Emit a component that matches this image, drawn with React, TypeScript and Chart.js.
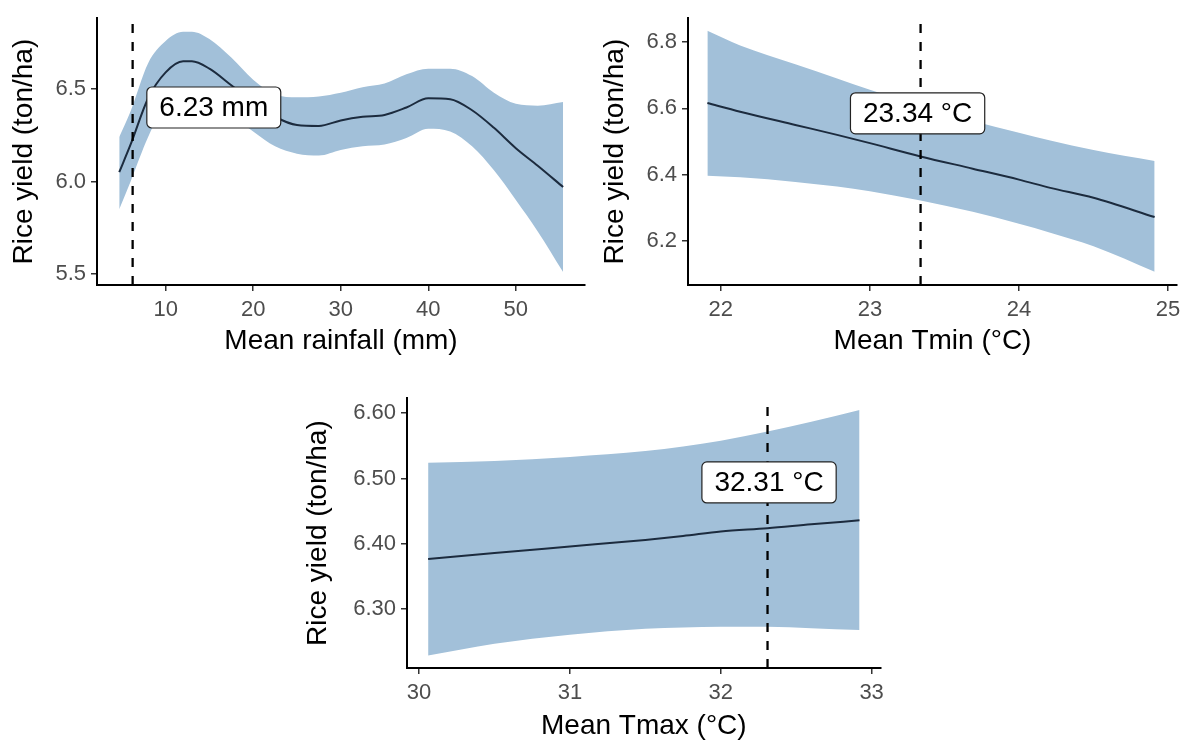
import React, { useEffect, useRef } from "react";
import { Chart, registerables } from "chart.js";

Chart.register(...registerables);

// ---------- Panel 1: Mean rainfall ----------
const RAIN_X = [4.7, 6, 8, 10, 12, 13, 15, 17.5, 20, 22.5, 25, 27.5, 30, 32.5, 35, 37.5, 40, 42.5, 45, 47.5, 50, 52.5, 55.4];
const RAIN_FIT = [6.05, 6.2, 6.45, 6.59, 6.65, 6.65, 6.61, 6.52, 6.43, 6.35, 6.305, 6.3, 6.33, 6.35, 6.36, 6.4, 6.45, 6.445, 6.385, 6.29, 6.18, 6.085, 5.97];
const RAIN_UPPER = [6.24, 6.38, 6.64, 6.76, 6.81, 6.81, 6.77, 6.67, 6.55, 6.47, 6.455, 6.46, 6.48, 6.51, 6.53, 6.58, 6.61, 6.61, 6.57, 6.48, 6.42, 6.41, 6.43];
const RAIN_LOWER = [5.85, 6.0, 6.24, 6.42, 6.49, 6.49, 6.45, 6.36, 6.27, 6.19, 6.15, 6.14, 6.17, 6.19, 6.2, 6.235, 6.285, 6.27, 6.19, 6.06, 5.9, 5.73, 5.51];
const RAIN_XTICKS = [10, 20, 30, 40, 50];
const RAIN_YTICKS = [5.5, 6.0, 6.5];
const RAIN_VLINE = 6.23;
const RAIN_LABEL = "6.23 mm";
const RAIN_LABEL_POS = [15.5, 6.4];

// ---------- Panel 2: Mean Tmin ----------
const TMIN_X = [21.91, 22.13, 22.5, 22.78, 23, 23.34, 23.69, 24, 24.21, 24.5, 24.91];
const TMIN_FIT = [6.616, 6.59, 6.55, 6.52, 6.495, 6.455, 6.418, 6.385, 6.36, 6.33, 6.272];
const TMIN_UPPER = [6.834, 6.79, 6.733, 6.69, 6.656, 6.607, 6.562, 6.526, 6.503, 6.474, 6.441];
const TMIN_LOWER = [6.397, 6.392, 6.378, 6.364, 6.35, 6.322, 6.288, 6.252, 6.225, 6.184, 6.107];
const TMIN_XTICKS = [22, 23, 24, 25];
const TMIN_YTICKS = [6.2, 6.4, 6.6, 6.8];
const TMIN_VLINE = 23.34;
const TMIN_LABEL = "23.34 °C";
const TMIN_LABEL_POS = [23.32, 6.585];

// ---------- Panel 3: Mean Tmax ----------
const TMAX_X = [30.06, 30.5, 31, 31.5, 31.75, 32, 32.31, 32.6, 32.92];
const TMAX_FIT = [6.377, 6.386, 6.396, 6.406, 6.412, 6.419, 6.424, 6.43, 6.436];
const TMAX_UPPER = [6.524, 6.527, 6.533, 6.542, 6.549, 6.558, 6.572, 6.587, 6.605];
const TMAX_LOWER = [6.229, 6.247, 6.261, 6.27, 6.272, 6.273, 6.273, 6.271, 6.268];
const TMAX_XTICKS = [30, 31, 32, 33];
const TMAX_YTICKS = [6.3, 6.4, 6.5, 6.6];
const TMAX_VLINE = 32.31;
const TMAX_LABEL = "32.31 °C";
const TMAX_LABEL_POS = [32.32, 6.494];

const Y_TITLE = "Rice yield (ton/ha)";

const FONT = "'Liberation Sans', Arial, sans-serif";
const BAND = "rgba(162,192,217,1)";
const FIT_COLOR = "#1c2b3e";

type Panel = {
  x: number[]; fit: number[]; upper: number[]; lower: number[];
  xTicks: number[]; yTicks: number[]; yDecimals: number;
  xMin: number; xMax: number; yMin: number; yMax: number;
  vline: number; label: string; labelPos: number[]; xTitle: string;
  // geometry
  left: number; top: number; width: number; height: number;
  yAxisW: number; xAxisH: number; padTop: number; padRight: number;
  yTitlePad: number; xTitlePad: number;
};

const PANELS: Panel[] = [
  {
    x: RAIN_X, fit: RAIN_FIT, upper: RAIN_UPPER, lower: RAIN_LOWER,
    xTicks: RAIN_XTICKS, yTicks: RAIN_YTICKS, yDecimals: 1,
    xMin: 2.16, xMax: 57.9, yMin: 5.44, yMax: 6.883,
    vline: RAIN_VLINE, label: RAIN_LABEL, labelPos: RAIN_LABEL_POS, xTitle: "Mean rainfall (mm)",
    left: 0, top: 0, width: 590, height: 370, yAxisW: 97, xAxisH: 85, padTop: 7, padRight: 5,
    yTitlePad: 7, xTitlePad: 12,
  },
  {
    x: TMIN_X, fit: TMIN_FIT, upper: TMIN_UPPER, lower: TMIN_LOWER,
    xTicks: TMIN_XTICKS, yTicks: TMIN_YTICKS, yDecimals: 1,
    xMin: 21.78, xMax: 25.06, yMin: 6.067, yMax: 6.872,
    vline: TMIN_VLINE, label: TMIN_LABEL, labelPos: TMIN_LABEL_POS, xTitle: "Mean Tmin (°C)",
    left: 590, top: 0, width: 602, height: 370, yAxisW: 98, xAxisH: 85, padTop: 7, padRight: 15,
    yTitlePad: 8, xTitlePad: 12,
  },
  {
    x: TMAX_X, fit: TMAX_FIT, upper: TMAX_UPPER, lower: TMAX_LOWER,
    xTicks: TMAX_XTICKS, yTicks: TMAX_YTICKS, yDecimals: 2,
    xMin: 29.92, xMax: 33.06, yMin: 6.21, yMax: 6.623,
    vline: TMAX_VLINE, label: TMAX_LABEL, labelPos: TMAX_LABEL_POS, xTitle: "Mean Tmax (°C)",
    left: 290, top: 380, width: 600, height: 363, yAxisW: 117, xAxisH: 75, padTop: 12, padRight: 8,
    yTitlePad: 11, xTitlePad: 0,
  },
];

const labelPlugin = {
  id: "labelBox",
  afterDatasetsDraw(chart: any, _args: any, opts: any) {
    const { ctx, scales } = chart;
    const px = scales.x.getPixelForValue(opts.pos[0]);
    const py = scales.y.getPixelForValue(opts.pos[1]);
    ctx.save();
    ctx.font = `28px ${FONT}`;
    const tw = ctx.measureText(opts.text).width;
    const w = tw + 25;
    const h = 41;
    const x0 = px - w / 2;
    const y0 = py - h / 2;
    ctx.beginPath();
    ctx.roundRect(x0, y0, w, h, 5);
    ctx.fillStyle = "#ffffff";
    ctx.fill();
    ctx.lineWidth = 1.2;
    ctx.strokeStyle = "#222";
    ctx.stroke();
    ctx.fillStyle = "#000";
    ctx.textAlign = "center";
    ctx.textBaseline = "middle";
    ctx.fillText(opts.text, px, py + 1);
    ctx.restore();
  },
};

function PanelChart({ p }: { p: Panel }) {
  const ref = useRef<HTMLCanvasElement | null>(null);
  useEffect(() => {
    if (!ref.current) return;
    const pts = (ys: number[]) => p.x.map((xv, i) => ({ x: xv, y: ys[i] }));
    const chart = new Chart(ref.current, {
      type: "line",
      data: {
        datasets: [
          {
            data: [{ x: p.vline, y: p.yMin }, { x: p.vline, y: p.yMax }],
            borderColor: "#000", borderWidth: 2.3, borderDash: [9, 9], pointRadius: 0, fill: false,
          },
          {
            data: pts(p.fit), borderColor: FIT_COLOR, borderWidth: 2, pointRadius: 0,
            cubicInterpolationMode: "monotone", fill: false,
          },
          {
            data: pts(p.upper), borderWidth: 0, borderColor: "rgba(0,0,0,0)", pointRadius: 0,
            cubicInterpolationMode: "monotone", fill: false,
          },
          {
            data: pts(p.lower), borderWidth: 0, borderColor: "rgba(0,0,0,0)", pointRadius: 0,
            cubicInterpolationMode: "monotone", fill: "-1", backgroundColor: BAND,
          },
        ],
      },
      options: {
        responsive: false,
        maintainAspectRatio: false,
        animation: false,
        layout: { padding: { left: 0, top: p.padTop, right: p.padRight, bottom: 0 } },
        plugins: {
          legend: { display: false },
          tooltip: { enabled: false },
          labelBox: { text: p.label, pos: p.labelPos },
        } as any,
        scales: {
          x: {
            type: "linear",
            min: p.xMin,
            max: p.xMax,
            afterBuildTicks: (s: any) => { s.ticks = p.xTicks.map((v) => ({ value: v })); },
            afterFit: (s: any) => { s.height = p.xAxisH; },
            grid: { drawOnChartArea: false, drawTicks: true, tickLength: 6, color: "#333", lineWidth: 1.5 },
            border: { display: true, color: "#000", width: 2 },
            ticks: {
              color: "#4d4d4d", font: { family: FONT, size: 22 }, padding: 6,
              maxRotation: 0, autoSkip: false, callback: (v: any) => String(v),
            },
            title: {
              display: true, text: p.xTitle, color: "#000",
              font: { family: FONT, size: 28 }, padding: { top: 0, bottom: p.xTitlePad },
            },
          },
          y: {
            type: "linear",
            min: p.yMin,
            max: p.yMax,
            afterBuildTicks: (s: any) => { s.ticks = p.yTicks.map((v) => ({ value: v })); },
            afterFit: (s: any) => { s.width = p.yAxisW; },
            grid: { drawOnChartArea: false, drawTicks: true, tickLength: 6, color: "#333", lineWidth: 1.5 },
            border: { display: true, color: "#000", width: 2 },
            ticks: {
              color: "#4d4d4d", font: { family: FONT, size: 22 }, padding: 5,
              autoSkip: false, callback: (v: any) => Number(v).toFixed(p.yDecimals),
            },
            title: {
              display: true, text: Y_TITLE, color: "#000",
              font: { family: FONT, size: 28 }, padding: { top: p.yTitlePad, bottom: 0 },
            },
          },
        },
      } as any,
      plugins: [labelPlugin],
    });
    return () => chart.destroy();
  }, [p]);
  return (
    <canvas
      ref={ref}
      width={p.width}
      height={p.height}
      style={{ position: "absolute", left: p.left, top: p.top, width: p.width, height: p.height }}
    />
  );
}

export default function App() {
  return (
    <div style={{ position: "absolute", left: 0, top: 0, width: 1192, height: 743, background: "#fff" }}>
      {PANELS.map((p, i) => (
        <PanelChart key={i} p={p} />
      ))}
    </div>
  );
}
